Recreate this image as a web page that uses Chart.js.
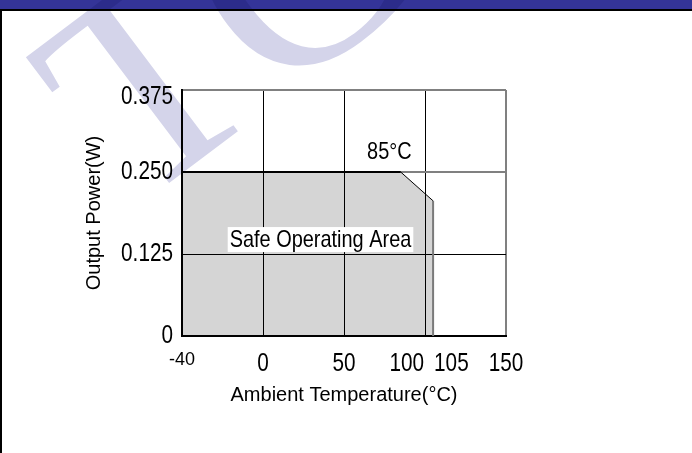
<!DOCTYPE html>
<html><head><meta charset="utf-8">
<script src="https://cdn.jsdelivr.net/npm/chart.js@4/dist/chart.umd.min.js"></script>
<style>html,body{margin:0;padding:0;background:#fff}#wrap{width:692px;height:453px}canvas{display:block}</style>
</head><body><div id="wrap"><canvas id="c" width="692" height="453"></canvas></div>
<script>
// ---- data ----
const temperatures = [-40, 85, 105, 105];          // °C
const outputPower  = [0.25, 0.25, 0.206, 0];       // W
const xTickValues  = [-40, 0, 50, 100, 105, 150];
const xTickLabels  = ['-40', '0', '50', '100', '105', '150'];
const yTickValues  = [0, 0.125, 0.25, 0.375];
const yTickLabels  = ['0', '0.125', '0.250', '0.375'];
const noteTexts    = ['85°C', 'Safe Operating Area'];
const noteX        = [78, 35.5];
const noteY        = [0.281, 0.147];

// ---- fonts (narrow look emulated by horizontal squeeze) ----
const PLAIN = '"Liberation Sans", Arial, sans-serif';
const SX = 0.83;          // horizontal squeeze of tick / note text
const TICK_SIZE = 25;
const NOTE_SIZE = 24;

function squeezedLabels(Base) {
  return class extends Base {
    _computeLabelArea() { return undefined; }
    drawLabels(chartArea) {
      if (!this.options.ticks.display) return;
      const ctx = this.ctx;
      for (const item of this.getLabelItems(chartArea)) {
        const sx = item.font.size === TICK_SIZE ? SX : 1;
        const o = item.options;
        const opts = Object.assign({}, o, {translation: [o.translation[0] / sx, o.translation[1]]});
        ctx.save();
        ctx.scale(sx, 1);
        Chart.helpers.renderText(ctx, item.label, 0, item.textOffset, item.font, opts);
        ctx.restore();
      }
    }
    _labelWidth(item) {
      const ctx = this.ctx;
      ctx.save(); ctx.font = item.font.string;
      const w = ctx.measureText(String(item.label)).width;
      ctx.restore();
      return w * (item.font.size === TICK_SIZE ? SX : 1);
    }
  };
}

class SqueezedLinearScale extends squeezedLabels(Chart.LinearScale) {
  _computeLabelItems(chartArea) {
    const items = super._computeLabelItems(chartArea);
    // keep the topmost label inside the plot frame
    items.forEach(it => {
      const t = it.options.translation;
      if (t[1] < this.top + 7) t[1] = this.top + 7;
    });
    return items;
  }
}
SqueezedLinearScale.id = 'squeezedLinear';
SqueezedLinearScale.defaults = Chart.LinearScale.defaults;

// ---- broken x axis: -40..0 takes the first grid cell, 0..150 the rest ----
const AXIS_BREAK = 0;
const BREAK_SHARE = 0.25;
class BrokenLinearScale extends squeezedLabels(Chart.LinearScale) {
  _dec(v) {
    if (v <= AXIS_BREAK) return (v - this.min) / (AXIS_BREAK - this.min) * BREAK_SHARE;
    return BREAK_SHARE + (v - AXIS_BREAK) / (this.max - AXIS_BREAK) * (1 - BREAK_SHARE);
  }
  getPixelForValue(value) {
    if (value === null || value === undefined || isNaN(value)) return NaN;
    return this.getPixelForDecimal(this._dec(+value));
  }
  getValueForPixel(pixel) {
    const d = this.getDecimalForPixel(pixel);
    if (d <= BREAK_SHARE) return this.min + d / BREAK_SHARE * (AXIS_BREAK - this.min);
    return AXIS_BREAK + (d - BREAK_SHARE) / (1 - BREAK_SHARE) * (this.max - AXIS_BREAK);
  }
  _computeLabelItems(chartArea) {
    const items = super._computeLabelItems(chartArea);
    const w = items.map(it => this._labelWidth(it));
    // push apart labels that would overlap
    for (let i = 1; i < items.length; i++) {
      const a = items[i - 1].options.translation, b = items[i].options.translation;
      const need = (w[i - 1] + w[i]) / 2 + 10;
      const gap = b[0] - a[0];
      if (gap < need) { const s = (need - gap) / 2; a[0] -= s; b[0] += s; }
    }
    return items;
  }
}
BrokenLinearScale.id = 'brokenLinear';
BrokenLinearScale.defaults = Chart.LinearScale.defaults;
Chart.register(SqueezedLinearScale, BrokenLinearScale);

Chart.defaults.color = '#000';

const decorPlugin = {
  id: 'decor',
  afterDatasetsDraw(chart) {
    const {ctx, scales: {x, y}} = chart;
    ctx.save();
    ctx.font = NOTE_SIZE + 'px ' + PLAIN;
    ctx.textAlign = 'center';
    ctx.textBaseline = 'middle';
    noteTexts.forEach((t, i) => {
      const px = x.getPixelForValue(noteX[i]);
      const py = y.getPixelForValue(noteY[i]);
      const w = ctx.measureText(t).width * SX;
      if (i === 1) {
        ctx.fillStyle = '#fff';
        ctx.fillRect(px - w / 2 - 2, py - 12.5, w + 4, 25);
      }
      ctx.save();
      ctx.scale(SX, 1);
      ctx.fillStyle = '#000';
      ctx.fillText(t, px / SX, py + 1);
      ctx.restore();
    });
    ctx.restore();
  },
  afterDraw(chart) {
    const ctx = chart.ctx;
    ctx.save();
    ctx.fillStyle = '#343498';
    ctx.fillRect(0, 0, 692, 9);
    ctx.fillStyle = '#000';
    ctx.fillRect(0, 9, 692, 2);
    ctx.fillRect(0, 9, 2, 444);
    // watermark
    ctx.globalCompositeOperation = 'multiply';
    ctx.fillStyle = '#d4d4ea';
    ctx.translate(147, 82);
    ctx.rotate(-37 * Math.PI / 180);
    ctx.font = '285px "Liberation Serif", serif';
    ctx.textBaseline = 'alphabetic';
    ctx.fillText('TC', -87, 94);
    ctx.restore();
  }
};

const pts = temperatures.map((t, i) => ({x: t, y: outputPower[i]}));

new Chart(document.getElementById('c'), {
  type: 'line',
  data: {
    datasets: [{
      data: pts,
      fill: 'origin',
      backgroundColor: '#d5d5d5',
      borderWidth: 0,
      borderColor: 'rgba(0,0,0,0)',
      pointRadius: 0,
      tension: 0
    }, {
      data: pts,
      fill: false,
      borderColor: '#000',
      borderWidth: 2,
      pointRadius: 0,
      tension: 0,
      segment: {
        borderColor: c => c.p1DataIndex === 3 ? '#7a7a7a' : '#000',
        borderWidth: c => c.p1DataIndex === 2 ? 1 : 2
      }
    }]
  },
  options: {
    responsive: false,
    animation: false,
    events: [],
    layout: {padding: {left: 2, top: 90, right: 186, bottom: 42}},
    plugins: {
      legend: {display: false},
      tooltip: {enabled: false},
      filler: {drawTime: 'beforeDraw'}
    },
    scales: {
      x: {
        type: 'brokenLinear',
        min: -40, max: 150,
        afterBuildTicks: s => { s.ticks = xTickValues.map(v => ({value: v})); },
        afterFit: s => { s.height = 75; },
        ticks: {
          autoSkip: false, maxRotation: 0, minRotation: 0, padding: 13,
          callback: v => xTickLabels[xTickValues.indexOf(v)],
          font: c => (c.tick && c.tick.value === -40) ? {family: PLAIN, size: 18} : {family: PLAIN, size: TICK_SIZE},
          color: '#000'
        },
        grid: {
          drawTicks: false,
          color: c => {
            const v = c.tick && c.tick.value;
            if (v === 105) return 'rgba(0,0,0,0)';
            if (v === 150) return '#808080';
            return '#000';
          },
          lineWidth: c => (c.tick && c.tick.value === 150) ? 2 : 1
        },
        border: {display: true, color: '#000', width: 2},
        title: {display: true, text: 'Ambient Temperature(°C)', color: '#000', font: {family: PLAIN, size: 20}, padding: {top: 0, bottom: 4}}
      },
      y: {
        type: 'squeezedLinear',
        min: 0, max: 0.375,
        afterBuildTicks: s => { s.ticks = yTickValues.map(v => ({value: v})); },
        afterFit: s => { s.width = 180; },
        ticks: {
          padding: 9,
          callback: v => yTickLabels[yTickValues.indexOf(v)],
          font: {family: PLAIN, size: TICK_SIZE},
          color: '#000'
        },
        grid: {
          drawTicks: false,
          color: c => {
            const v = c.tick && c.tick.value;
            return (v === 0.25 || v === 0.375) ? '#808080' : '#000';
          },
          lineWidth: c => {
            const v = c.tick && c.tick.value;
            return (v === 0.25 || v === 0.375) ? 2 : 1;
          }
        },
        border: {display: true, color: '#000', width: 2},
        title: {display: true, text: 'Output Power(W)', color: '#000', font: {family: PLAIN, size: 20}, padding: {top: 80, bottom: 0}}
      }
    }
  },
  plugins: [decorPlugin]
});
</script>
</body></html>
